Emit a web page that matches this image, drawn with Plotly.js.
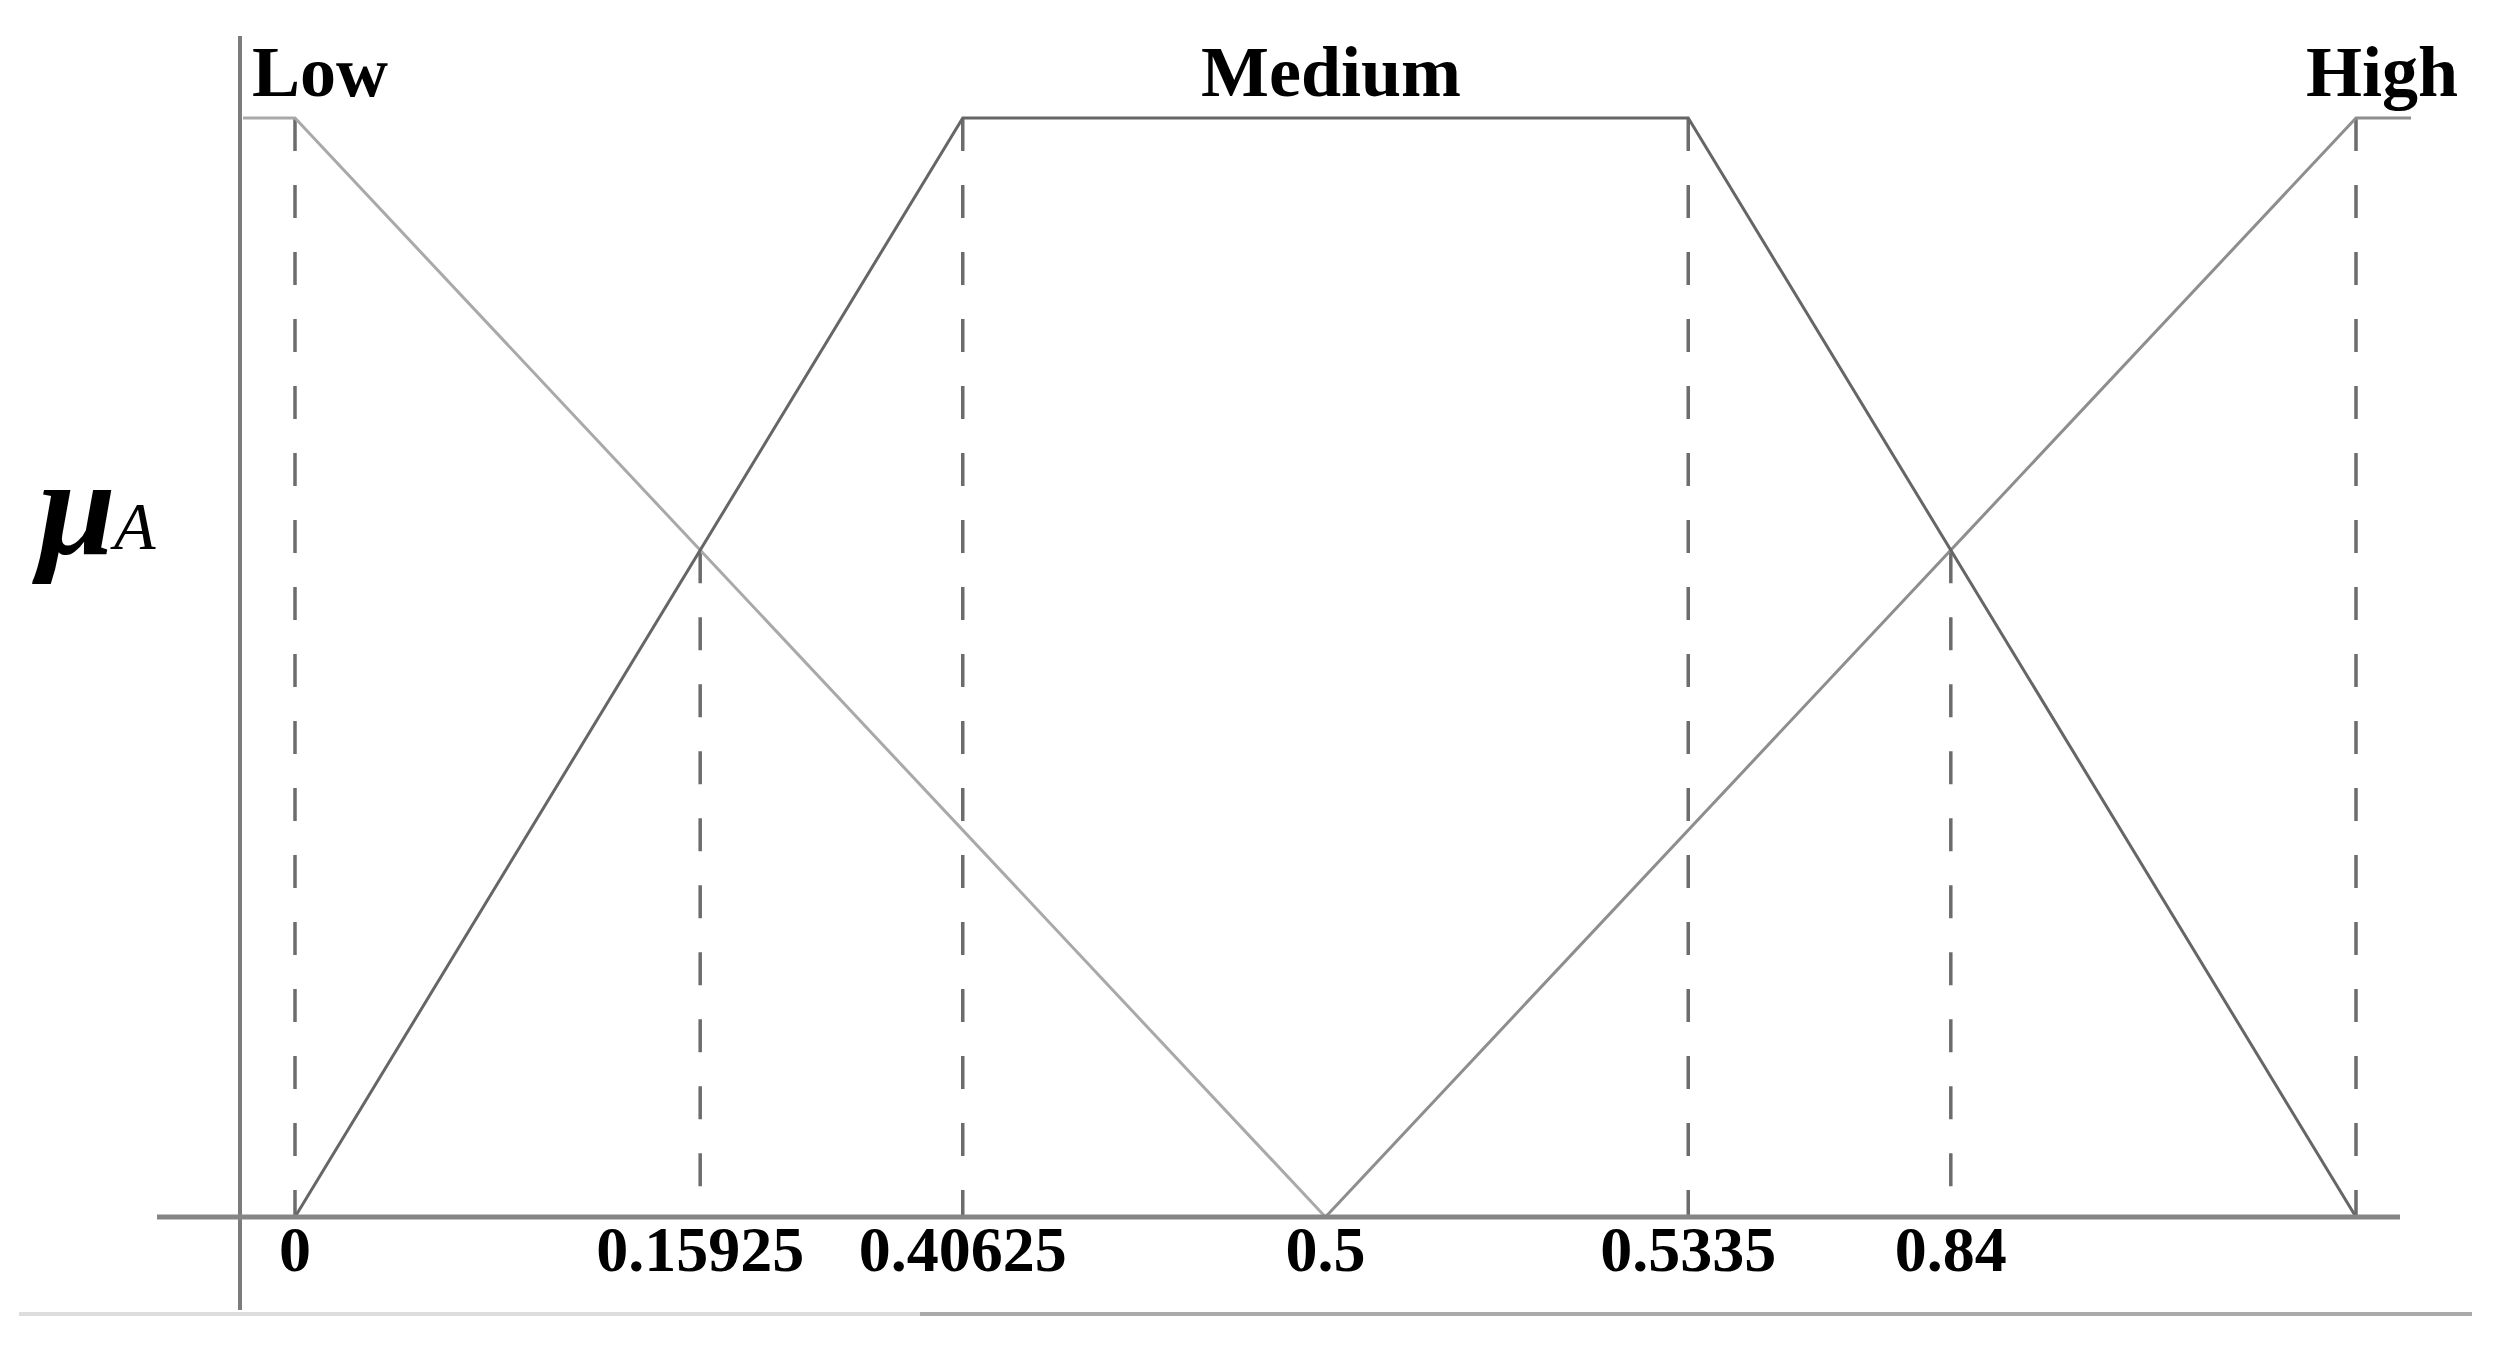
<!DOCTYPE html>
<html>
<head>
<meta charset="utf-8">
<script src="https://cdn.plot.ly/plotly-3.0.1.min.js"></script>
<style>html,body{margin:0;padding:0;background:#fff;}#chart{width:2504px;height:1350px;}</style>
</head>
<body>
<div id="chart"></div>
<script>
// Display positions of the breakpoints along the (non-linear) universe axis
const tickPositions = [0, 0.1966, 0.324, 0.5, 0.676, 0.8034];
const tickLabels = ["0", "0.15925", "0.40625", "0.5", "0.5335", "0.84"];

// Membership functions (display position, membership degree)
const lowX = [-0.0252, 0, 0.5];
const lowY = [1, 1, 0];
const mediumX = [0, 0.324, 0.676, 1];
const mediumY = [0, 1, 1, 0];
const highX = [0.5, 1, 1.0267];
const highY = [0, 1, 1];

// Dashed guide lines (position, top membership degree)
const guideX = [0, 0.1966, 0.324, 0.676, 0.8034, 1];
const guideTop = [1, 0.6068, 1, 1, 0.6068, 1];

const setNames = ["Low", "Medium", "High"];

const W = 2504, H = 1350;
const serif = "Liberation Serif, DejaVu Serif, serif";

const traces = [];
guideX.forEach((gx, i) => {
  traces.push({
    x: [gx, gx], y: [guideTop[i], 0], mode: "lines", type: "scatter",
    line: {color: "#6c6c6c", width: 3.5, dash: "33px,34px"},
    hoverinfo: "skip", showlegend: false
  });
});
traces.push({x: lowX, y: lowY, mode: "lines", type: "scatter", name: setNames[0],
  line: {color: "#a9a9a9", width: 3}, showlegend: false});
traces.push({x: highX, y: highY, mode: "lines", type: "scatter", name: setNames[2],
  line: {color: "#8e8e8e", width: 3}, showlegend: false});
traces.push({x: mediumX, y: mediumY, mode: "lines", type: "scatter", name: setNames[1],
  line: {color: "#666666", width: 3}, showlegend: false});

// pixel mapping helpers for ranges
const x0px = 295, x1px = 2356, y0px = 1217, y1px = 118;
const xs = x1px - x0px, ys = y0px - y1px;

const layout = {
  width: W, height: H,
  margin: {l: 0, r: 0, t: 0, b: 0, pad: 0},
  paper_bgcolor: "#ffffff", plot_bgcolor: "#ffffff",
  showlegend: false,
  xaxis: {
    range: [-x0px / xs, (W - x0px) / xs],
    anchor: "free", position: 1 - (y0px - 11) / H,
    showgrid: false, zeroline: false, showline: false,
    ticks: "", tickvals: tickPositions, ticktext: tickLabels,
    tickfont: {family: serif, size: 64, color: "#000", weight: "bold"},
    ticklabelstandoff: 0,
    automargin: false, fixedrange: true
  },
  yaxis: {
    range: [(y0px - H) / ys, y0px / ys],
    visible: false, showgrid: false, zeroline: false,
    automargin: false, fixedrange: true
  },
  shapes: [
    // vertical axis line
    {type: "line", xref: "paper", yref: "paper", x0: 240 / W, x1: 240 / W,
     y0: 1 - 1310 / H, y1: 1 - 36 / H, line: {color: "#7c7c7c", width: 4}},
    // horizontal axis line
    {type: "line", xref: "paper", yref: "y", x0: 157 / W, x1: 2400 / W,
     y0: 0, y1: 0, line: {color: "#858585", width: 5}},
    // bottom rule (two tones)
    {type: "line", xref: "paper", yref: "paper", x0: 19 / W, x1: 920 / W,
     y0: 1 - 1314 / H, y1: 1 - 1314 / H, line: {color: "#dddddd", width: 4}},
    {type: "line", xref: "paper", yref: "paper", x0: 920 / W, x1: 2472 / W,
     y0: 1 - 1314 / H, y1: 1 - 1314 / H, line: {color: "#aaaaaa", width: 4}}
  ],
  annotations: [
    {text: "<b>" + setNames[0] + "</b>", xref: "paper", yref: "paper",
     x: 250 / W, y: 1 - 72 / H, xanchor: "left", yanchor: "middle", showarrow: false,
     font: {family: serif, size: 72, color: "#000"}},
    {text: "<b>" + setNames[1] + "</b>", xref: "paper", yref: "paper",
     x: 1331 / W, y: 1 - 72 / H, xanchor: "center", yanchor: "middle", showarrow: false,
     font: {family: serif, size: 72, color: "#000"}},
    {text: "<b>" + setNames[2] + "</b>", xref: "paper", yref: "paper",
     x: 2382 / W, y: 1 - 72 / H, xanchor: "center", yanchor: "middle", showarrow: false,
     font: {family: serif, size: 72, color: "#000"}},
    {text: "<b><i>μ</i></b>", xref: "paper", yref: "paper",
     x: 30 / W, y: 1 - 507 / H, xanchor: "left", yanchor: "middle", showarrow: false,
     font: {family: serif, size: 140, color: "#000"}},
    {text: "<i>A</i>", xref: "paper", yref: "paper",
     x: 108 / W, y: 1 - 526 / H, xanchor: "left", yanchor: "middle", showarrow: false,
     font: {family: serif, size: 68, color: "#000"}}
  ]
};

Plotly.newPlot("chart", traces, layout, {staticPlot: true, displayModeBar: false});
</script>
</body>
</html>
